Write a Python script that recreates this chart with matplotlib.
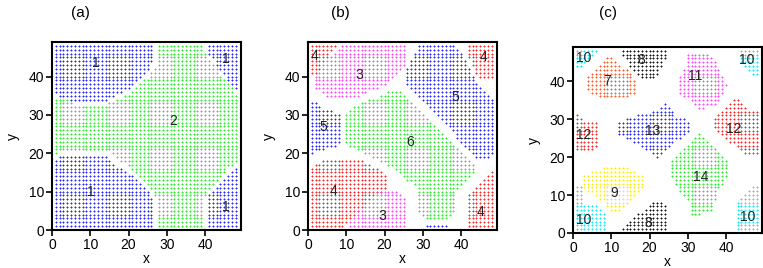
import numpy as np
import matplotlib
matplotlib.use("Agg")
import matplotlib.pyplot as plt
from matplotlib.path import Path

# grid of sample positions
grid_x = list(range(1, 49))
grid_y = list(range(1, 49))

colors = {
    "blue": "#2828ff", "green": "#28f028", "red": "#ff2828", "magenta": "#ff48ff",
    "cyan": "#08eeff", "black": "#141414", "orange": "#ff5a28", "yellow": "#ffee08",
}

# ---- panel (a): cluster regions ----
a_regions = [
    ("blue", [(0.5,48.5),(26.5,48.5),(26.5,44.5),(24.5,40.5),(21,37.5),(17.5,35.5),(13.5,33.5),(5.5,33.5),(1.5,35),(0.5,36.5)]),
    ("blue", [(40.5,48.5),(48.5,48.5),(48.5,36.5),(47.5,36.5),(45,40),(40.5,46)]),
    ("blue", [(0.5,0.5),(26.5,0.5),(26.5,7),(24.5,11),(21,14),(17.5,16.5),(13.5,19.5),(2.5,19.5),(0.5,17.5)]),
    ("blue", [(40.5,0.5),(48.5,0.5),(48.5,16.5),(47.5,16.5),(44,12),(40.5,8.5)]),
    ("green", [(27.5,48.5),(39.5,48.5),(39.5,47),(44.5,40),(47.5,36.5),(48.5,35.5),(48.5,17.5),(46,16),(42.5,12),(40.5,9.5),(39.5,8),
               (39.5,0.5),(27.5,0.5),(27.5,7.5),(25.5,11),(22,14.5),(18.5,17.5),(14.5,20.5),(2.5,20.5),(1.5,19.5),(0.5,19.5),
               (0.5,34.5),(4.5,34.5),(5.5,32.5),(14,32.5),(17.5,34.5),(21,36.5),(25,40),(27.5,43.5)]),
]
a_labels = [("1", 11.5, 43.5), ("1", 45.5, 44.5), ("2", 31.8, 28.3), ("1", 10.1, 9.8), ("1", 45.5, 6.0)]

# ---- panel (b) ----
b_regions = [
    ("red", [(0.5,48.5),(7.5,48.5),(2.5,41),(2.5,40.5),(0.5,40.5)]),
    ("magenta", [(9.5,48.5),(25.5,48.5),(25.5,43),(20,37.5),(14,35.5),(13.5,34.5),(5.5,34.5),(1.5,37),(1.5,40),(5.5,45)]),
    ("red", [(41.5,48.5),(48.5,48.5),(48.5,39.5),(44.5,39.5),(41.5,45)]),
    ("blue", [(28.5,48.5),(38.5,48.5),(42,43),(44.5,38),(48.5,34),(48.5,19.5),(47,18.5),(43.5,18.5),(38,25),(33,30),(25.5,38.5),(25.5,40.5),(26.5,44),(28.5,47.5)]),
    ("blue", [(0.5,33.5),(1.5,33.5),(4,31.5),(8.5,30.5),(8.5,22.5),(6,21.5),(2,20),(0.5,19.5)]),
    ("green", [(23.5,36.5),(24.5,36.5),(43.5,17.5),(43.5,15),(38.5,10),(38.5,4.5),(36.5,2.5),(31.5,2.5),(28.5,5),(28.5,11),
               (22,16),(12,21.2),(9.5,22.5),(9.5,30.5),(12,32.5),(22,36.5)]),
    ("red", [(0.5,0.5),(8.5,0.5),(12,4),(17,8.5),(20.5,11),(20.5,13.5),(18.5,16),(14,18.5),(5.5,18.5),(1.5,17.5),(0.5,16)]),
    ("magenta", [(10.5,0.5),(25.5,0.5),(25.5,8),(23.5,10.5),(19.5,10.5),(13,5),(10.5,1.5)]),
    ("blue", [(30.5,0.5),(36.5,0.5),(36.5,1.5),(30.5,1.5)]),
    ("red", [(41.5,0.5),(48.5,0.5),(48.5,15.5),(47.5,15.5),(41.5,9)]),
]
b_labels = [("4", 1.6, 45.3), ("3", 13.4, 40.5), ("4", 45.9, 45.0), ("5", 4.1, 26.8), ("5", 38.5, 34.6),
            ("6", 26.8, 22.9), ("4", 6.7, 10.2), ("3", 19.3, 3.6), ("4", 45.0, 4.8)]

# ---- panel (c) ----
c_regions = [
    ("cyan", [(0.5,48.5),(6.5,48.5),(2.5,43.5),(0.5,43.5)]),
    ("black", [(12.5,48.5),(24.5,48.5),(24.5,46),(21.5,40.5),(17.5,40.5),(12.5,47)]),
    ("cyan", [(43.5,48.5),(48.5,48.5),(48.5,41.5),(46.5,41.5),(43.5,45)]),
    ("orange", [(9.5,46.5),(10.5,46.5),(13,44),(15,42.5),(16.5,40),(16.5,37),(14,35.5),(8,35.5),(4.5,36.5),(3.5,38),(3.5,41),(6,43.5)]),
    ("magenta", [(29.5,47.5),(35.5,47.5),(37.5,45),(38.5,42),(40.5,39),(39,36),(37,33.5),(33,32.5),(30,35),(27.5,37),(27.5,41),(29.5,44)]),
    ("red", [(0.5,31.5),(1.5,31.5),(3,29.5),(6.5,29.5),(6.5,23),(4.5,21.5),(0.5,21.5)]),
    ("red", [(41.5,35.5),(42.5,35.5),(46,33),(48.5,32),(48.5,20.5),(44.5,20.5),(42,23),(39,25.5),(36.5,28),(36.5,30.5),(39,33)]),
    ("blue", [(23.5,34.5),(24.5,34.5),(27,31),(30.5,29.5),(30.5,27),(27,24),(23,20.5),(22,19.5),(21,20.5),(17,23),(13,25),(11.5,26),(11.5,29),(14,30.5),(19,31.5),(22,33)]),
    ("green", [(32.5,26.5),(33.5,26.5),(37,22.5),(40.5,19.5),(40.5,15),(38,11),(36,5.5),(30.5,4.5),(30,8),(27,12),(25.5,16),(25.5,19.5),(28,22),(31,25)]),
    ("yellow", [(9.5,17.5),(13.5,17.5),(16,16.5),(18.5,15),(18.5,12),(16,9),(13,6),(12,5.5),(10,5.5),(8,8),(5,10),(2.5,12),(2.5,15),(5,16.5)]),
    ("cyan", [(0.5,0.5),(8.5,0.5),(8.5,5),(6,7.5),(2.5,8),(2.5,12.5),(0.5,12.5)]),
    ("black", [(12.5,0.5),(24.5,0.5),(24.5,7),(22.5,8.5),(21.5,8.5),(12.5,1.5)]),
    ("cyan", [(42.5,0.5),(48.5,0.5),(48.5,12.5),(46.5,12.5),(42.5,8)]),
]
c_labels = [("10", 2.8, 46.1), ("8", 17.9, 45.7), ("10", 45.3, 45.7), ("7", 8.8, 40.0), ("11", 31.9, 41.4),
            ("12", 2.8, 25.8), ("13", 20.7, 27.0), ("12", 42.0, 27.5), ("14", 33.5, 14.7), ("9", 10.8, 10.6),
            ("10", 2.8, 3.5), ("8", 19.7, 2.6), ("10", 45.6, 4.2)]

panels = [
    ("(a)", a_regions, a_labels, [52, 42, 241, 230], 80),
    ("(b)", b_regions, b_labels, [308, 42, 497, 230], 340),
    ("(c)", c_regions, c_labels, [573, 47, 762, 233], 608),
]

plt.rcParams['font.family'] = ['Liberation Sans', 'DejaVu Sans']

W, H = 763, 268
fig = plt.figure(figsize=(W/100, H/100), dpi=100)

gx, gy = np.meshgrid(grid_x, grid_y)
pts = np.column_stack([gx.ravel(), gy.ravel()])

for title, regions, labels, (l, t, r, b), tx in panels:
    ax = fig.add_axes([l/W, 1 - b/H, (r-l)/W, (b-t)/H])
    for cname, poly in regions:
        mask = Path(poly).contains_points(pts)
        ax.plot(pts[mask, 0], pts[mask, 1], linestyle='none', marker='+',
                ms=1.6, mew=0.72, color=colors[cname])
    for txt, x, y in labels:
        ax.text(x, y, txt, ha='center', va='center', fontsize=10, color='#222222')
    ax.set_xlim(0, 49.4)
    ax.set_ylim(0, 49)
    ax.set_xticks([0, 10, 20, 30, 40])
    ax.set_yticks([0, 10, 20, 30, 40])
    ax.tick_params(direction='out', length=4, width=1.2, labelsize=10, pad=1.5)
    for s in ax.spines.values():
        s.set_linewidth(1.5)
    ax.set_xlabel('x', fontsize=10, labelpad=0)
    ax.set_ylabel('y', fontsize=10, labelpad=6)
    fig.text(tx/W, 1 - 13/H, title, ha='center', va='center', fontsize=11)

fig.savefig('out.png', dpi=100)
